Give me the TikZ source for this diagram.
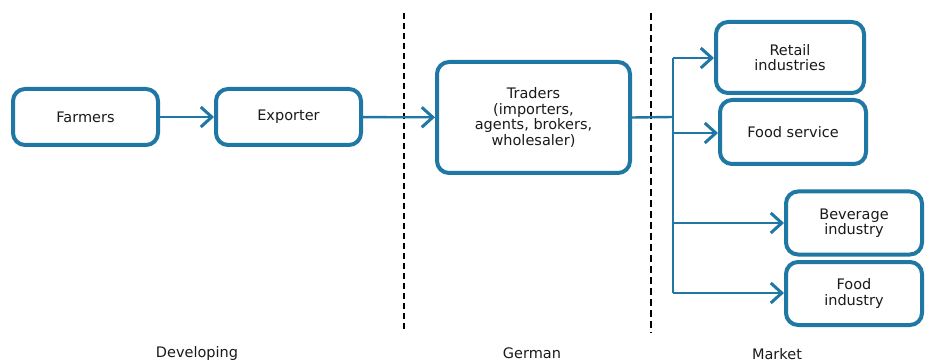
\documentclass[tikz,border=0pt]{standalone}
\usepackage{fontspec}
\setmainfont{DejaVu Sans}
\usetikzlibrary{arrows.meta}
\definecolor{flowblue}{HTML}{1F78A4}
\definecolor{txt}{HTML}{1A1A1A}
\begin{document}
\begin{tikzpicture}[x=1pt,y=-1pt,
  box/.style={draw=flowblue,line width=4pt,rounded corners=12pt,fill=white,align=center,
    text=txt,font=\fontsize{14.5}{15.5}\selectfont,inner sep=0pt},
  link/.style={draw=flowblue,line width=2.4pt},
  arr/.style={link,-{Straight Barb[length=11pt,width=20pt,line width=3pt]}},
  divider/.style={line width=2pt,dash pattern=on 7pt off 4pt},
  zone/.style={text=txt,font=\fontsize{14.5}{15.5}\selectfont}]
\useasboundingbox (0,0) rectangle (925,363);
\node[box,minimum width=145pt,minimum height=56pt] (farmers) at (85.5,117) {Farmers};
\node[box,minimum width=145pt,minimum height=56pt] (exporter) at (288.5,117) {Exporter};
\node[box,minimum width=193pt,minimum height=111pt] (traders) at (533.5,117.5) {Traders\\(importers,\\agents, brokers,\\wholesaler)};
\node[box,minimum width=148pt,minimum height=71pt] (retail) at (790,57.5) {Retail\\industries};
\node[box,minimum width=146pt,minimum height=64pt] (foodserv) at (793,132) {Food service};
\node[box,minimum width=136pt,minimum height=63pt] (beverage) at (854,223) {Beverage\\industry};
\node[box,minimum width=136pt,minimum height=63pt] (foodind) at (854,293.5) {Food\\industry};
\coordinate (d1top) at (404,13);
\coordinate (d1bot) at (404,331);
\coordinate (d2top) at (651,13);
\coordinate (d2bot) at (651,333);
\draw[divider,line width=1.6pt,dash pattern=on 6pt off 4pt] (d1top) -- (d1bot);
\draw[divider] (d2top) -- (d2bot);
\draw[arr] (farmers) -- (exporter);
\draw[arr] (exporter) -- (traders);
\coordinate (hub) at (673,117);
\coordinate (hubtop) at (673,58);
\coordinate (hubbot) at (673,293);
\draw[link] (traders.east) -- (hub);
\draw[link] (hubtop) -- (hubbot);
\draw[arr] (hubtop) -- (retail.west |- hubtop);
\draw[arr] (673,133) -- (foodserv.west |- 0,133);
\draw[arr] (673,223) -- (beverage.west);
\draw[arr] (hubbot) -- (foodind.west |- hubbot);
\node[zone] (dev) at (197,353) {Developing};
\node[zone] (ger) at (532,353) {German};
\node[zone] (mkt) at (777,354) {Market};
\end{tikzpicture}
\end{document}
